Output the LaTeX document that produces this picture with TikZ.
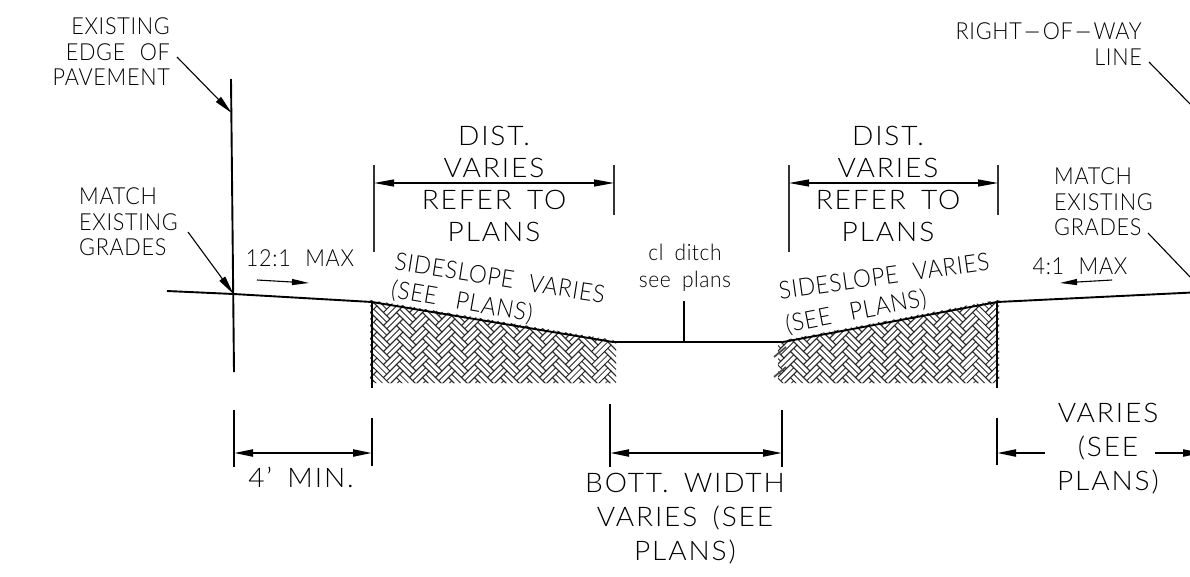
\documentclass[tikz,border=0pt]{standalone}
\usepackage{fontspec}
\usepackage{graphicx}
\setmainfont{Lato Light}[LetterSpace=7,FakeStretch=1.04,WordSpace=1.6]
\newfontfamily\capface{Lato Light}[LetterSpace=3,FakeStretch=.92,WordSpace=2.2]
\newfontfamily\lowface{Lato Light}[LetterSpace=2.5,FakeStretch=.93,WordSpace=1.8]
\usetikzlibrary{arrows.meta}
\tikzset{
 lbl/.style={inner sep=0pt,align=center},
 big/.style={lbl,font=\fontsize{27}{32}\selectfont},
 bigb/.style={lbl,font=\fontsize{27}{34}\selectfont},
 small/.style={lbl,font=\capface\fontsize{23.5}{25.5}\selectfont},
 slopetext/.style={lbl,font=\capface\fontsize{24.5}{26}\selectfont},
 lower/.style={lbl,font=\lowface\fontsize{22.5}{26.5}\selectfont},
 ground/.style={line width=1.9pt,black},
 vert/.style={line width=1.9pt,black},
 extline/.style={line width=1.3pt,black!80},
 extthick/.style={line width=1.7pt,black},
 dimthin/.style={line width=1.2pt,black,{Triangle[length=20pt,width=7pt]}-{Triangle[length=20pt,width=7pt]}},
 dimthick/.style={line width=2.1pt,black,{Triangle[length=19pt,width=7pt]}-{Triangle[length=19pt,width=7pt]}},
 dimone/.style={line width=2.1pt,black,-{Triangle[length=19pt,width=7pt]}},
 leader/.style={line width=1.1pt,black,-{Triangle[length=19pt,width=7pt]}},
 plainleader/.style={line width=1.1pt,black},
 slope/.style={line width=1.1pt,black,-{Triangle[length=17pt,width=6pt]}},
 brick/.style={line width=0.85pt,black!85},
}
\newcommand{\herring}[2]{%
 \begin{scope}[shift={(#1,#2)},rotate=45,x=4.6pt,y=4.6pt]
 \foreach \i in {-6,...,6}{\foreach \j in {-7,...,7}{
   \pgfmathsetmacro{\ox}{2*\i+4*\j}\pgfmathsetmacro{\oy}{2*\i-4*\j}
   \draw[brick] (\ox,\oy) rectangle ++(4,2) (\ox,\oy+1) -- ++(4,0);
   \draw[brick] (\ox,\oy+2) rectangle ++(2,4) (\ox+1,\oy+2) -- ++(0,4);
 }}
 \end{scope}}
\begin{document}
\begin{tikzpicture}[x=1pt,y=-1pt]
\useasboundingbox (0,0) rectangle (1190,576);
% hatching
\begin{scope}
 \clip (370,300) -- (613,340) -- (616,342) -- (616,383) -- (370,383) -- cycle;
 \herring{494}{345}
\end{scope}
\begin{scope}
 \clip (785,340) -- (997,300) -- (999,300) -- (999,383) -- (778,383) -- (778,345) -- cycle;
 \herring{888}{345}
\end{scope}
\draw[line width=1.8pt,black!70] (774,357) -- (786,347) (774,377) -- (786,367);
% ground profile
\coordinate (g0) at (167,291);
\coordinate (g1) at (233.5,294);
\coordinate (g2) at (372,302);
\coordinate (g3) at (613,342);
\coordinate (g4) at (783,342);
\coordinate (g5) at (997,302);
\coordinate (g6) at (1192,292.5);
\draw[ground] (g0) -- (g1) -- (g2) -- (g3) -- (g4) -- (g5) -- (g6);
% verticals
\coordinate (pt) at (231,79);
\coordinate (pb) at (234,372);
\coordinate (pm) at (231.7,113);
\draw[vert] (pt) -- (pb);
\coordinate (h2) at (372,388);
\coordinate (h5) at (997,388);
\draw[vert] (g2) -- (h2);
\draw[vert] (g5) -- (h5);
\coordinate (cb) at (684,342);
\coordinate (ct) at (684,301);
\draw[line width=1.5pt] (cb) -- (ct);
% top dimensions
\coordinate (a1) at (374,165); \coordinate (a2) at (374,252); \coordinate (a3) at (614,165); \coordinate (a4) at (614,215);
\coordinate (b1) at (789,165); \coordinate (b2) at (789,252); \coordinate (b3) at (998,165); \coordinate (b4) at (998,215);
\coordinate (am1) at (374,183); \coordinate (am2) at (614,183);
\coordinate (bm1) at (789,183); \coordinate (bm2) at (998,183);
\draw[extline] (a1) -- (a2); \draw[extline] (a3) -- (a4);
\draw[extline] (b1) -- (b2); \draw[extline] (b3) -- (b4);
\draw[dimthin] (am1) -- (am2);
\draw[dimthin] (bm1) -- (bm2);
\node[big] (dl) at (494,184) {DIST.\\VARIES\\REFER TO\\PLANS};
\node[big] (dr) at (888,184) {DIST.\\VARIES\\REFER TO\\PLANS};
% bottom dimensions
\coordinate (c1) at (234,410); \coordinate (c2) at (234,467);
\coordinate (c3) at (372,418); \coordinate (c4) at (372,466);
\coordinate (c5) at (610,404); \coordinate (c6) at (610,467);
\coordinate (c7) at (782,410); \coordinate (c8) at (782,467);
\coordinate (c9) at (997,418); \coordinate (c10) at (997,465);
\draw[extthick] (c1) -- (c2); \draw[extthick] (c3) -- (c4);
\draw[extthick] (c5) -- (c6); \draw[extthick] (c7) -- (c8);
\draw[extthick] (c9) -- (c10);
\coordinate (dm1) at (234,453); \coordinate (dm2) at (372,453);
\coordinate (dm3) at (610,453); \coordinate (dm4) at (782,453);
\coordinate (dm5) at (997,453); \coordinate (dm6) at (1045,453);
\coordinate (dm7) at (1155,453); \coordinate (dm8) at (1202,453);
\draw[dimthick] (dm1) -- (dm2);
\draw[dimthick] (dm3) -- (dm4);
\draw[dimone] (dm6) -- (dm5);
\draw[dimone] (dm7) -- (dm8);
\node[bigb] (min) at (301,477) {4\char39\ MIN.};
\node[bigb] (bott) at (685,519) {BOTT. WIDTH\\VARIES (SEE\\PLANS)};
\node[bigb] (var) at (1108,449) {VARIES\\(SEE\\PLANS)};
% left labels
\node[small,align=right,anchor=east] (ex) at (170,52) {EXISTING\\EDGE OF\\PAVEMENT};
\coordinate (exl) at (177,57);
\draw[leader] (exl) -- (pm);
\node[small,align=left,anchor=west] (ml) at (79,222) {MATCH\\EXISTING\\GRADES};
\coordinate (mll) at (188,232);
\draw[leader] (mll) -- (g1);
\node[small] (r12) at (300,258) {12:1 MAX};
\coordinate (s1) at (257,280); \coordinate (s2) at (309,283);
\draw[slope] (s1) -- (s2);
% right labels
\node[small,align=right,anchor=east] (row) at (1142,44) {RIGHT\scalebox{2.6}[1]{-}OF\scalebox{2.6}[1]{-}WAY\\LINE};
\coordinate (rowa) at (1149,62); \coordinate (rowb) at (1192,106);
\draw[plainleader] (rowa) -- (rowb);
\node[small,align=left,anchor=west] (mr) at (1054,202) {MATCH\\EXISTING\\GRADES};
\coordinate (mra) at (1148,233); \coordinate (mrb) at (1192,279);
\draw[plainleader] (mra) -- (mrb);
\node[small] (r4) at (1080,266) {4:1 MAX};
\coordinate (s3) at (1112,280); \coordinate (s4) at (1060,283);
\draw[slope] (s3) -- (s4);
% centre and slope labels
\node[lower] (cl) at (685,268) {cl ditch\\see plans};
\node[slopetext,rotate=-9] (sl1) at (500,278) {SIDESLOPE VARIES};
\node[slopetext,rotate=-10] (sl2) at (462,302) {(SEE\hspace{4pt} PLANS)};
\node[slopetext,rotate=8] (sr1) at (884,276) {SIDESLOPE VARIES};
\node[slopetext,rotate=11] (sr2) at (856,312) {(SEE\hspace{4pt} PLANS)};
\end{tikzpicture}
\end{document}
